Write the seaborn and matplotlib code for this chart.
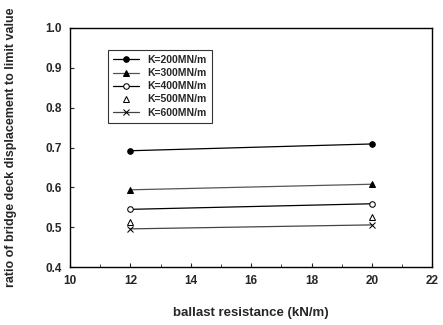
import matplotlib
matplotlib.use("Agg")
import matplotlib.pyplot as plt
import seaborn as sns
import pandas as pd
from matplotlib.ticker import MultipleLocator

sns.set_style("ticks")
plt.rcParams['font.family'] = ['Liberation Sans', 'DejaVu Sans']
plt.rcParams['font.weight'] = 'bold'

ballast = [12, 20]
k200 = [0.692, 0.709]
k300 = [0.594, 0.608]
k400 = [0.545, 0.559]
k500 = [0.514, 0.525]
k600 = [0.496, 0.506]
labels = ["K=200MN/m", "K=300MN/m", "K=400MN/m", "K=500MN/m", "K=600MN/m"]

fig, ax = plt.subplots(figsize=(4.43, 3.25), dpi=100)
fig.subplots_adjust(left=0.158, right=0.976, top=0.914, bottom=0.178)

styles = [
    dict(marker='o', markerfacecolor='black', ls='-', color='black'),
    dict(marker='^', markerfacecolor='black', ls='-', color='#555555'),
    dict(marker='o', markerfacecolor='white', ls='-', color='black'),
    dict(marker='^', markerfacecolor='white', ls='none', color='black'),
    dict(marker='x', markerfacecolor='black', ls='-', color='#444444'),
]
for vals, lab, st in zip([k200, k300, k400, k500, k600], labels, styles):
    df = pd.DataFrame({"x": ballast, "y": vals})
    line_ls = st['ls']
    sns.lineplot(data=df, x="x", y="y", ax=ax, label=lab, color=st['color'],
                 marker=st['marker'], markerfacecolor=st['markerfacecolor'],
                 markeredgecolor='black', markersize=4, linewidth=0.9,
                 linestyle='' if line_ls == 'none' else line_ls)

ax.set_xlim(10, 22)
ax.set_ylim(0.4, 1.0)
ax.xaxis.set_major_locator(MultipleLocator(2))
ax.xaxis.set_minor_locator(MultipleLocator(1))
ax.yaxis.set_major_locator(MultipleLocator(0.1))
ax.tick_params(direction='in', which='both', labelsize=8.5, length=3, pad=6)
ax.tick_params(which='minor', length=2)
ax.set_yticks([0.4, 0.5, 0.6, 0.7, 0.8, 0.9, 1.0])
ax.set_yticklabels([f"{v:.1f}" for v in ax.get_yticks()], fontweight='bold')
ax.set_xticks([10, 12, 14, 16, 18, 20, 22])
ax.set_xticklabels([str(v) for v in [10, 12, 14, 16, 18, 20, 22]], fontweight='bold')
for s in ax.spines.values():
    s.set_linewidth(1.0)
    s.set_color('black')
ax.set_xlabel("ballast resistance (kN/m)", fontsize=9.5, fontweight='bold', labelpad=14)
ax.set_ylabel("ratio of bridge deck displacement to limit value", fontsize=9,
              fontweight='bold', labelpad=20)
leg = ax.legend(loc='upper left', bbox_to_anchor=(0.09, 0.93), frameon=True,
                fancybox=False, edgecolor='black', handlelength=2.5,
                borderpad=0.5, labelspacing=0.3, prop={'weight': 'bold', 'size': 7.5})
leg.get_frame().set_linewidth(0.8)
fig.savefig("out.png", dpi=100)
